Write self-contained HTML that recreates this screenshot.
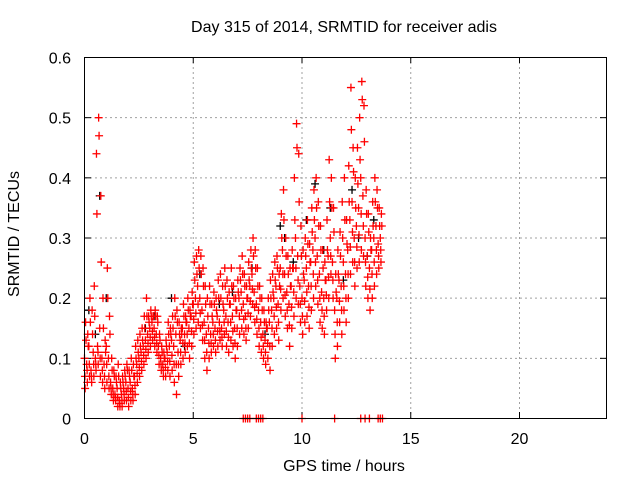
<!DOCTYPE html>
<html><head><meta charset="utf-8"><style>
body{margin:0;background:#fff;}
svg text{font-family:"Liberation Sans",Arial,sans-serif;font-size:16px;fill:#000;}
</style></head><body>
<svg id="chart" width="640" height="480" xmlns="http://www.w3.org/2000/svg">
<rect width="640" height="480" fill="#fff"/>
<text x="344" y="32" text-anchor="middle">Day 315 of 2014, SRMTID for receiver adis</text>
<text x="344" y="471" text-anchor="middle">GPS time / hours</text>
<text x="0" y="0" text-anchor="middle" transform="translate(19,234) rotate(-90)">SRMTID / TECUs</text>
<g id="grid"></g><g id="ticks"></g><g id="marks"></g>
<rect x="84.5" y="57.5" width="522" height="361" fill="none" stroke="#000" stroke-width="1"/>
</svg>
<script>
const xTicks=[0,5,10,15,20];
const yTicks=[0,0.1,0.2,0.3,0.4,0.5,0.6];
const yTickLabels=["0","0.1","0.2","0.3","0.4","0.5","0.6"];
const times=[0.0,0.1,0.2,0.3,0.4,0.5,0.6,0.7,0.8,0.9,1.0,1.1,1.2,1.3,1.4,1.5,1.6,1.7,1.8,1.9,2.0,2.1,2.2,2.3,2.4,2.5,2.6,2.7,2.8,2.9,3.0,3.1,3.2,3.3,3.4,3.5,3.6,3.7,3.8,3.9,4.0,4.1,4.2,4.3,4.4,4.5,4.6,4.7,4.8,4.9,5.0,5.1,5.2,5.3,5.4,5.5,5.6,5.7,5.8,5.9,6.0,6.1,6.2,6.3,6.4,6.5,6.6,6.7,6.8,6.9,7.0,7.1,7.2,7.3,7.4,7.5,7.6,7.7,7.8,7.9,8.0,8.1,8.2,8.3,8.4,8.5,8.6,8.7,8.8,8.9,9.0,9.1,9.2,9.3,9.4,9.5,9.6,9.7,9.8,9.9,10.0,10.1,10.2,10.3,10.4,10.5,10.6,10.7,10.8,10.9,11.0,11.1,11.2,11.3,11.4,11.5,11.6,11.7,11.8,11.9,12.0,12.1,12.2,12.3,12.4,12.5,12.6,12.7,12.8,12.9,13.0,13.1,13.2,13.3,13.4,13.5,13.6];
const seriesMid=[.10,.09,.12,.08,.11,.10,.12,.15,.10,.09,.12,.10,.06,.05,.04,.05,.03,.04,.05,.06,.05,.06,.05,.07,.09,.10,.11,.12,.13,.14,.15,.16,.15,.14,.12,.10,.09,.10,.11,.12,.13,.12,.14,.11,.13,.15,.14,.16,.15,.17,.19,.20,.22,.20,.18,.16,.14,.15,.14,.16,.15,.17,.16,.15,.18,.17,.16,.19,.17,.15,.18,.20,.21,.19,.17,.20,.22,.24,.21,.19,.18,.16,.14,.13,.15,.16,.18,.20,.22,.19,.25,.28,.24,.21,.19,.22,.25,.30,.27,.22,.20,.23,.25,.22,.26,.28,.30,.27,.24,.21,.20,.23,.27,.30,.26,.18,.20,.23,.22,.26,.24,.28,.33,.36,.30,.32,.35,.40,.37,.30,.27,.25,.28,.30,.32,.29,.30];
const seriesHigh=[.16,.14,.20,.18,.22,.44,.50,.37,.20,.13,.25,.17,.10,.08,.07,.09,.06,.07,.08,.09,.08,.10,.09,.12,.13,.14,.15,.17,.20,.17,.18,.17,.18,.17,.14,.12,.11,.13,.16,.15,.17,.20,.18,.16,.15,.19,.17,.20,.18,.21,.26,.27,.28,.27,.25,.22,.20,.22,.19,.21,.20,.23,.24,.22,.25,.23,.21,.25,.22,.20,.23,.25,.27,.24,.22,.26,.28,.30,.28,.25,.22,.20,.18,.16,.20,.23,.24,.26,.27,.24,.34,.38,.30,.27,.25,.28,.40,.49,.44,.32,.28,.30,.33,.29,.35,.38,.40,.36,.32,.28,.26,.33,.43,.40,.35,.24,.28,.31,.36,.40,.33,.42,.55,.45,.40,.45,.50,.56,.52,.38,.34,.30,.36,.40,.38,.35,.34];
const seriesLow=[.05,.06,.07,.06,.07,.08,.09,.07,.06,.05,.06,.05,.04,.03,.03,.02,.02,.02,.03,.03,.02,.03,.03,.04,.06,.07,.08,.09,.10,.11,.12,.13,.12,.11,.09,.08,.07,.07,.08,.07,.08,.06,.04,.07,.09,.10,.11,.12,.10,.12,.14,.15,.16,.15,.13,.10,.08,.10,.11,.12,.11,.12,.13,.12,.14,.12,.11,.13,.12,.10,.12,.14,.15,.14,.13,.15,.17,.19,.16,.14,.12,.11,.10,.09,.10,.08,.12,.14,.15,.13,.18,.20,.17,.15,.12,.15,.17,.20,.19,.16,.14,.16,.17,.15,.18,.20,.22,.19,.16,.15,.14,.18,.20,.24,.20,.10,.12,.16,.14,.18,.16,.20,.24,.26,.22,.25,.26,.28,.27,.22,.20,.18,.20,.22,.24,.25,.26];
const seriesUpper=[.13,.12,.16,.14,.17,.34,.47,.26,.15,.11,.20,.14,.08,.07,.06,.07,.05,.06,.07,.08,.07,.08,.07,.10,.11,.12,.13,.15,.17,.16,.17,.17,.17,.16,.13,.11,.10,.12,.14,.14,.15,.17,.16,.14,.14,.17,.16,.18,.17,.19,.23,.24,.25,.24,.22,.19,.17,.19,.17,.19,.18,.20,.20,.19,.22,.20,.19,.22,.20,.18,.21,.23,.24,.22,.20,.23,.25,.27,.25,.22,.20,.18,.16,.15,.18,.20,.21,.23,.25,.22,.30,.33,.27,.24,.22,.25,.33,.45,.36,.27,.24,.27,.29,.26,.31,.33,.35,.32,.28,.25,.23,.28,.36,.35,.31,.21,.24,.27,.30,.33,.29,.36,.48,.41,.35,.39,.43,.53,.46,.34,.31,.28,.32,.36,.35,.32,.32];
const seriesLower=[.07,.08,.09,.07,.09,.09,.11,.10,.08,.07,.09,.07,.05,.04,.035,.035,.025,.03,.04,.045,.035,.045,.04,.055,.075,.085,.095,.105,.115,.125,.135,.145,.135,.125,.105,.09,.08,.085,.095,.095,.105,.09,.09,.09,.11,.125,.125,.14,.125,.145,.165,.175,.19,.175,.155,.13,.11,.125,.125,.14,.13,.145,.145,.135,.16,.145,.135,.16,.145,.125,.15,.17,.18,.165,.15,.175,.195,.215,.185,.165,.15,.135,.12,.11,.125,.12,.15,.17,.185,.16,.215,.24,.205,.18,.155,.185,.21,.25,.23,.19,.17,.195,.21,.185,.22,.24,.26,.23,.20,.18,.17,.205,.235,.27,.23,.14,.16,.195,.18,.22,.20,.24,.285,.31,.26,.285,.305,.34,.32,.26,.235,.215,.24,.26,.28,.27,.28];
const blackTimes=[0.2,0.5,0.7,1.0,2.8,3.2,4.0,4.6,5.3,6.2,6.8,7.7,8.3,9.0,9.2,9.6,10.2,10.6,11.0,11.3,11.9,12.3,12.6,13.0,13.3];
const blackValues=[.18,.14,.37,.20,.15,.17,.20,.12,.24,.19,.21,.25,.14,.32,.30,.26,.33,.39,.28,.35,.23,.38,.30,.27,.33];
const zeroTimes=[7.3,7.4,7.5,7.6,7.9,8.0,8.1,8.2,10.0,11.5,12.7,12.9,13.1,13.5,13.6,13.7];

const X=t=>84.5+t*(522/24);
const Y=v=>418.5-v*(361/0.6);
const NS="http://www.w3.org/2000/svg";
const grid=document.getElementById('grid'),ticks=document.getElementById('ticks'),marks=document.getElementById('marks');
function mk(tag,attrs,parent){const e=document.createElementNS(NS,tag);for(const k in attrs)e.setAttribute(k,attrs[k]);parent.appendChild(e);return e;}
xTicks.forEach(t=>{
  const x=X(t);
  if(t>0){const g=mk('line',{x1:x,x2:x,y1:57,y2:418,stroke:'#a0a0a0','stroke-dasharray':'2,3'},grid);
  
  }
  mk('line',{x1:x,x2:x,y1:418,y2:412,stroke:'#000'},ticks);
  mk('line',{x1:x,x2:x,y1:57,y2:63,stroke:'#000'},ticks);
  const l=mk('text',{x:x,y:444,'text-anchor':'middle'},ticks);l.textContent=t;
  
  
});
yTicks.forEach((v,i)=>{
  const y=Y(v);
  if(v>0&&v<0.6){const g=mk('line',{x1:85,x2:606,y1:y,y2:y,stroke:'#a0a0a0','stroke-dasharray':'2,3'},grid);
  
  }
  mk('line',{x1:85,x2:91,y1:y,y2:y,stroke:'#000'},ticks);
  mk('line',{x1:600,x2:606,y1:y,y2:y,stroke:'#000'},ticks);
  const l=mk('text',{x:71,y:y+6,'text-anchor':'end'},ticks);l.textContent=yTickLabels[i];
  
  
});
function plus(t,v,color){
  const x=X(t),y=Y(v);
  const p=mk('path',{d:`M${x-4},${y}H${x+4}M${x},${y-4}V${y+4}`,stroke:color,'stroke-width':1.3,fill:'none'},marks);
  
  
}
blackTimes.forEach((t,i)=>plus(t,blackValues[i],'#000'));
times.forEach((t,i)=>{
  plus(t,seriesMid[i],'#f00');
  plus(t+0.05,seriesHigh[i],'#f00');
  plus(t+0.03,seriesLow[i],'#f00');
  plus(t+0.07,seriesUpper[i],'#f00');
  plus(t+0.02,seriesLower[i],'#f00');
});
zeroTimes.forEach(t=>plus(t,0,'#f00'));
</script>
</body></html>
